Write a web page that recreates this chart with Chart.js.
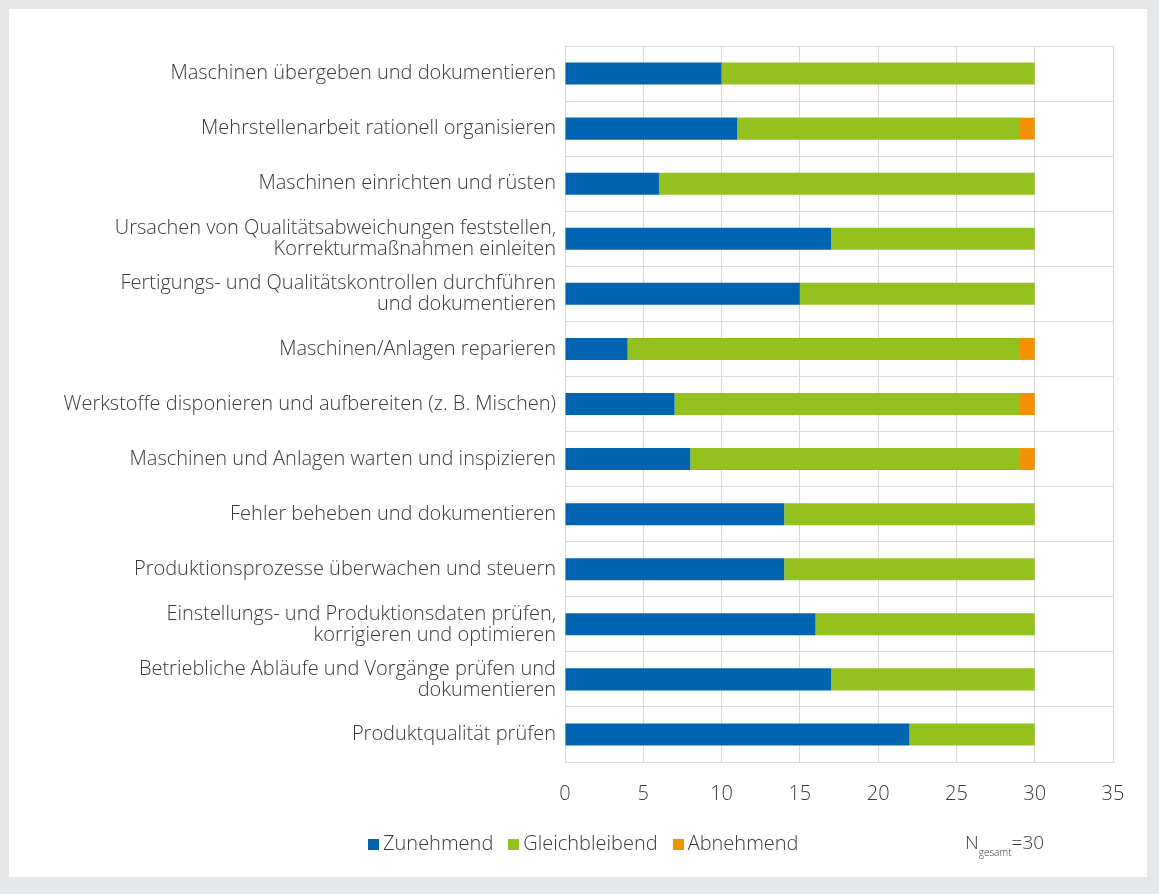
<!DOCTYPE html>
<html>
<head>
<meta charset="utf-8">
<script src="https://cdn.jsdelivr.net/npm/chart.js@4/dist/chart.umd.min.js"></script>
<style>
  html, body { margin: 0; padding: 0; background: #e6e7e9; width: 1159px; height: 894px; overflow: hidden; }
  #card { position: absolute; left: 9px; top: 9px; width: 1138px; height: 868px; background: #ffffff; }
  #wrap { position: absolute; left: 0; top: 0; width: 1138px; height: 868px; }
  .txt { font-family: "Open Sans", sans-serif; font-weight: 300; font-size: 20px; color: #3a3a3a; position: absolute; white-space: nowrap; }
  #note { left: 956px; top: 820px; font-size: 19px; }
  #note sub { font-size: 10px; vertical-align: -7px; }
  #legend { left: 359px; top: 820px; }
  #legend span.item { margin-right: 15px; }
  #legend span.box { display: inline-block; width: 11px; height: 11px; margin-right: 4px; vertical-align: 0px; }
</style>
</head>
<body>
<div id="card">
  <div id="wrap"><canvas id="c"></canvas></div>
  <div id="legend" class="txt"></div>
  <div id="note" class="txt">N<sub>gesamt</sub>=30</div>
</div>
<script>
const categories = [
  "Maschinen übergeben und dokumentieren",
  "Mehrstellenarbeit rationell organisieren",
  "Maschinen einrichten und rüsten",
  ["Ursachen von Qualitätsabweichungen feststellen,", "Korrekturmaßnahmen einleiten"],
  ["Fertigungs- und Qualitätskontrollen durchführen", "und dokumentieren"],
  "Maschinen/Anlagen reparieren",
  "Werkstoffe disponieren und aufbereiten (z. B. Mischen)",
  "Maschinen und Anlagen warten und inspizieren",
  "Fehler beheben und dokumentieren",
  "Produktionsprozesse überwachen und steuern",
  ["Einstellungs- und Produktionsdaten prüfen,", "korrigieren und optimieren"],
  ["Betriebliche Abläufe und Vorgänge prüfen und", "dokumentieren"],
  "Produktqualität prüfen"
];
const zunehmend      = [10, 11, 6, 17, 15, 4, 7, 8, 14, 14, 16, 17, 22];
const gleichbleibend = [20, 18, 24, 13, 15, 25, 22, 21, 16, 16, 14, 13, 8];
const abnehmend      = [0, 1, 0, 0, 0, 1, 1, 1, 0, 0, 0, 0, 0];
const seriesNames = ["Zunehmend", "Gleichbleibend", "Abnehmend"];
const seriesColors = ["#0064b0", "#95c11f", "#f39200"];
const xTicks = [0, 5, 10, 15, 20, 25, 30, 35];

const FONT = "'Open Sans', sans-serif";
const TXT = "#3a3a3a";
const GRID = "#d9d9d9";

const chart = new Chart(document.getElementById("c"), {
  type: "bar",
  data: {
    labels: categories,
    datasets: [
      { label: seriesNames[0], data: zunehmend, backgroundColor: seriesColors[0] },
      { label: seriesNames[1], data: gleichbleibend, backgroundColor: seriesColors[1] },
      { label: seriesNames[2], data: abnehmend, backgroundColor: seriesColors[2] }
    ]
  },
  options: {
    indexAxis: "y",
    responsive: true,
    maintainAspectRatio: false,
    animation: false,
    barPercentage: 0.4,
    categoryPercentage: 1.0,
    layout: { padding: { left: 0, right: 34, top: 37, bottom: 71 } },
    plugins: {
      legend: { display: false },
      tooltip: { enabled: false }
    },
    scales: {
      x: {
        stacked: true,
        min: 0,
        max: 35,
        afterBuildTicks: (s) => { s.ticks = xTicks.map(v => ({ value: v })); },
        afterFit: (s) => { s.height = 44; },
        ticks: { font: { family: FONT, size: 20, weight: 300 }, color: TXT, padding: 20 },
        grid: { color: GRID, drawTicks: false },
        border: { color: GRID }
      },
      y: {
        stacked: true,
        afterFit: (s) => { s.width = 556; },
        ticks: { font: { family: FONT, size: 20, weight: 300, lineHeight: 1.05 }, color: TXT, padding: 9 },
        grid: { color: GRID, offset: true, drawTicks: false },
        border: { color: GRID }
      }
    }
  }
});

const leg = document.getElementById("legend");
chart.data.datasets.forEach((ds) => {
  const item = document.createElement("span");
  item.className = "item";
  const box = document.createElement("span");
  box.className = "box";
  box.style.background = ds.backgroundColor;
  item.appendChild(box);
  item.appendChild(document.createTextNode(ds.label));
  leg.appendChild(item);
});
</script>
</body>
</html>
